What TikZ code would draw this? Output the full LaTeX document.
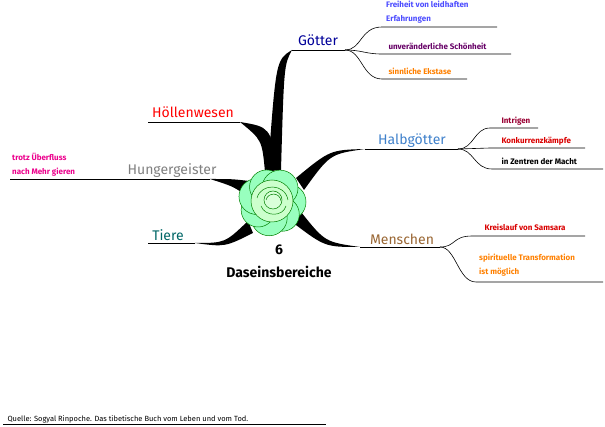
\documentclass[tikz,border=0pt]{standalone}
\usepackage{fontspec}
\setmainfont{Fira Sans}
\begin{document}
\begin{tikzpicture}[x=1pt,y=-1pt,
  main/.style={font=\fontsize{14}{15}\selectfont, anchor=base},
  sub/.style={font=\fontsize{8}{13.5}\selectfont\bfseries, anchor=base west, align=left},
  subm/.style={font=\fontsize{8}{13.5}\selectfont\bfseries, anchor=north west, align=left, inner sep=0pt},
  thin/.style={line width=0.6pt},
  br/.style={fill=black}]
\useasboundingbox (0,0) rectangle (605,427);
% thick branches
\fill[br] (268,170) .. controls (276,60) .. (292,50) .. controls (284,65) .. (281,170) -- cycle;
\fill[br] (296,178) .. controls (330,150) .. (365,149) .. controls (330,154) .. (304,190) -- cycle;
\fill[br] (292,222) .. controls (325,247) .. (360,247) .. controls (325,242) .. (301,212) -- cycle;
\fill[br] (240,122) .. controls (270,127) .. (279,170) -- (265,172) .. controls (262,140) .. (240,122) -- cycle;
\fill[br] (210,179) .. controls (232,179) .. (249,181) -- (246,195) .. controls (232,186) .. (210,179) -- cycle;
\fill[br] (195,243) .. controls (225,243) .. (248,221) -- (253,233) .. controls (225,247) .. (195,243) -- cycle;
% rose
\begin{scope}[draw=green!50!black, line width=0.5pt]
\foreach \a/\r in {0/18,50/17,100/18,150/17,200/18,250/17,300/18}
  \filldraw[fill=green!30!white!85!cyan] (272,202) ++(\a:16) circle (\r);
\filldraw[fill=green!20!white] (272,201) circle (21);
\draw (257,198) .. controls (261,183) and (285,183) .. (288,200);
\draw (261,206) .. controls (265,217) and (283,217) .. (286,206);
\filldraw[fill=green!15!white] (273,200) circle (9);
\draw (266,200) .. controls (268,192) and (280,192) .. (281,201);
\end{scope}
% main labels and underlines
\node[main, text=blue!60!black] (g) at (318,46) {Götter};
\draw[thin] (292,50) -- (345,50);
\node[main, text=cyan!50!blue!80!white] (h) at (412,145) {Halbgötter};
\draw[thin] (365,149) -- (458,149);
\node[main, text=brown!80!black] (m) at (402,245) {Menschen};
\draw[thin] (360,247) -- (440,247);
\node[main, text=red] (hw) at (193,118) {Höllenwesen};
\draw[thin] (148,122) -- (240,122);
\node[main, text=gray] (hg) at (172,175) {Hungergeister};
\draw[thin] (10,179) -- (210,179);
\node[main, text=teal!80!black] (t) at (168,241) {Tiere};
\draw[thin] (148,243) -- (195,243);
\node[main, font=\fontsize{14}{15}\selectfont\bfseries] (six) at (279,255) {6};
\node[main, font=\fontsize{14}{15}\selectfont\bfseries] (db) at (279,278) {Daseinsbereiche};
% Götter subs
\coordinate (g0) at (345,50);
\draw[thin] (g0) .. controls (362,50) and (360,27) .. (382,27) -- (497,27);
\draw[thin] (g0) .. controls (362,50) and (365,54) .. (382,54) -- (511,54);
\draw[thin] (g0) .. controls (362,50) and (362,79) .. (382,79) -- (467,79);
\node[subm, text=blue!70!white] at (386,1) {Freiheit von leidhaften\\Erfahrungen};
\node[sub, text=violet!80!black] at (385,50) {unveränderliche Schönheit};
\node[sub, text=orange] at (385,75) {sinnliche Ekstase};
% Halbgötter subs
\coordinate (h0) at (458,149);
\draw[thin] (h0) .. controls (474,149) and (474,128) .. (490,128) -- (538,128);
\draw[thin] (h0) .. controls (474,149) and (474,148) .. (490,148) -- (585,148);
\draw[thin] (h0) .. controls (474,149) and (474,169) .. (492,169) -- (603,169);
\node[sub, text=purple!80!black] at (498,124) {Intrigen};
\node[sub, text=red!85!black] at (498,144) {Konkurrenzkämpfe};
\node[sub, text=black] at (498,165) {in Zentren der Macht};
% Menschen subs
\coordinate (m0) at (440,247);
\draw[thin] (m0) .. controls (456,247) and (452,236) .. (472,236) -- (585,236);
\draw[thin] (m0) .. controls (456,247) and (458,282) .. (476,282) -- (603,282);
\node[sub, text=red!85!black] at (481,231) {Kreislauf von Samsara};
\node[subm, text=orange] at (479,254) {spirituelle Transformation\\ist möglich};
% Hungergeister sub
\node[subm, text=magenta] at (12,153) {trotz Überfluss\\nach Mehr gieren};
% source
\node[sub, text=black, font=\fontsize{7.5}{8}\selectfont] (q) at (4,421) {Quelle: Sogyal Rinpoche. Das tibetische Buch vom Leben und vom Tod.};
\draw[thin] (3,424) -- (326,424);
\end{tikzpicture}
\end{document}
